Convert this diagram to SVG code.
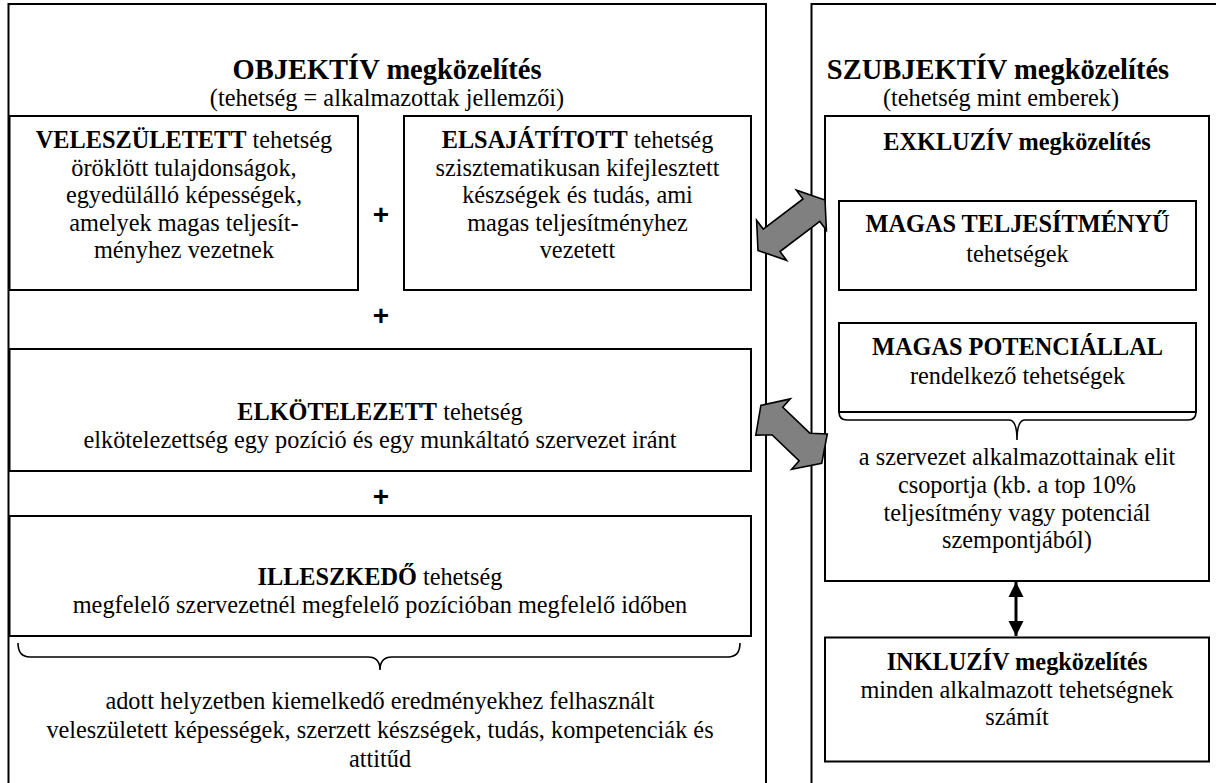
<svg xmlns="http://www.w3.org/2000/svg" width="1216" height="783" viewBox="0 0 1216 783">
  <defs>
    <style>
      .frame{fill:#fff;stroke:#000;stroke-width:2}
      .box{fill:#fff;stroke:#000;stroke-width:2}
      text{font-family:"Liberation Serif","Times New Roman",serif;font-size:24.3px;fill:#000;text-anchor:middle}
      .title{font-size:28.5px;font-weight:bold}
      .b{font-weight:bold}
      .plus{font-family:"Liberation Sans",Arial,sans-serif;font-size:28px;font-weight:bold}
      .brace{fill:none;stroke:#000;stroke-width:1.6}
      .block{fill:#808080;stroke:#000;stroke-width:1.6;stroke-linejoin:miter}
      .link{fill:none;stroke:#000;stroke-width:3}
    </style>
    <marker id="tip" viewBox="0 0 10 10" refX="10" refY="5" markerUnits="userSpaceOnUse" markerWidth="15" markerHeight="17" orient="auto-start-reverse">
      <path d="M0,0 L10,5 L0,10 Z" fill="#000"/>
    </marker>
  </defs>

  <!-- objective approach column -->
  <g id="frame-objektiv">
    <rect class="frame" x="8.5" y="4" width="757.5" height="800"/>
    <text class="title" x="387" y="79">OBJEKTÍV megközelítés</text>
    <text x="387" y="106">(tehetség = alkalmazottak jellemzői)</text>
  </g>

  <g id="box-veleszuletett">
    <rect class="box" x="9.5" y="116" width="348.5" height="174"/>
    <text x="184" y="148"><tspan class="b">VELESZÜLETETT</tspan> tehetség</text>
    <text x="184" y="175.5">öröklött tulajdonságok,</text>
    <text x="184" y="203">egyedülálló képességek,</text>
    <text x="184" y="230.5">amelyek magas teljesít-</text>
    <text x="184" y="258">ményhez vezetnek</text>
  </g>

  <g id="box-elsajatitott">
    <rect class="box" x="404" y="116" width="347" height="174"/>
    <text x="577.5" y="148"><tspan class="b">ELSAJÁTÍTOTT</tspan> tehetség</text>
    <text x="577.5" y="175.5">szisztematikusan kifejlesztett</text>
    <text x="577.5" y="203">készségek és tudás, ami</text>
    <text x="577.5" y="230.5">magas teljesítményhez</text>
    <text x="577.5" y="258">vezetett</text>
  </g>

  <g id="box-elkotelezett">
    <rect class="box" x="9.5" y="349" width="741.5" height="122"/>
    <text x="380" y="420"><tspan class="b">ELKÖTELEZETT</tspan> tehetség</text>
    <text x="380" y="448">elkötelezettség egy pozíció és egy munkáltató szervezet iránt</text>
  </g>

  <g id="box-illeszkedo">
    <rect class="box" x="9.5" y="516" width="741.5" height="120"/>
    <text x="380" y="585"><tspan class="b">ILLESZKEDŐ</tspan> tehetség</text>
    <text x="380" y="613">megfelelő szervezetnél megfelelő pozícióban megfelelő időben</text>
  </g>

  <g id="plus-signs">
    <text class="plus" x="381" y="224">+</text>
    <text class="plus" x="381" y="325">+</text>
    <text class="plus" x="381" y="506">+</text>
    <text class="plus" x="1005" y="309">+</text>
  </g>

  <g id="summary-objektiv">
    <path class="brace" d="M18,643 Q18,657 30,657 L368,657 Q380,657 380,670 Q380,657 392,657 L728,657 Q740,657 740,643"/>
    <text x="380" y="709">adott helyzetben kiemelkedő eredményekhez felhasznált</text>
    <text x="380" y="738">veleszületett képességek, szerzett készségek, tudás, kompetenciák és</text>
    <text x="380" y="767">attitűd</text>
  </g>

  <!-- subjective approach column -->
  <g id="frame-szubjektiv">
    <rect class="frame" x="811.5" y="4" width="420" height="800"/>
    <text class="title" x="998" y="79">SZUBJEKTÍV megközelítés</text>
    <text x="1001" y="106">(tehetség mint emberek)</text>
  </g>

  <g id="box-exkluziv">
    <rect class="box" x="825" y="116" width="384" height="465"/>
    <text class="b" x="1017" y="150">EXKLUZÍV megközelítés</text>
  </g>

  <g id="box-magas-teljesitmenyu">
    <rect class="box" x="839" y="201" width="357" height="89"/>
    <text class="b" x="1017.5" y="232">MAGAS TELJESÍTMÉNYŰ</text>
    <text x="1017.5" y="262">tehetségek</text>
  </g>

  <g id="box-magas-potencialu">
    <rect class="box" x="839" y="323" width="357" height="89"/>
    <text class="b" x="1017.5" y="355">MAGAS POTENCIÁLLAL</text>
    <text x="1017.5" y="384">rendelkező tehetségek</text>
  </g>

  <g id="summary-exkluziv">
    <path class="brace" d="M839,412 Q839,420 847,420 L1009,420 Q1017,420 1017,440 Q1017,420 1025,420 L1188,420 Q1196,420 1196,412"/>
    <text x="1017" y="465">a szervezet alkalmazottainak elit</text>
    <text x="1017" y="493">csoportja (kb. a top 10%</text>
    <text x="1017" y="521">teljesítmény vagy potenciál</text>
    <text x="1017" y="548">szempontjából)</text>
  </g>

  <g id="box-inkluziv">
    <rect class="box" x="825" y="637.5" width="384" height="124"/>
    <text x="1017" y="670"><tspan class="b">INKLUZÍV megközelítés</tspan></text>
    <text x="1017" y="698">minden alkalmazott tehetségnek</text>
    <text x="1017" y="725">számít</text>
  </g>

  <!-- connectors -->
  <g id="connectors">
    <polygon class="block" points="758,250.5 786.6,260.3 780,251.5 819.8,221.4 826.4,230.2 825,200 796.4,190.2 803,199 763.2,229.1 756.6,220.3"/>
    <polygon class="block" points="760.9,405.4 790.3,398.9 782.8,407.3 809.8,433.2 827.3,434 821.7,463.3 791.7,469.3 799.2,460.9 772.2,435 755.8,435.1"/>
    <line class="link" x1="1016" y1="582" x2="1016" y2="636" marker-start="url(#tip)" marker-end="url(#tip)"/>
  </g>
</svg>
